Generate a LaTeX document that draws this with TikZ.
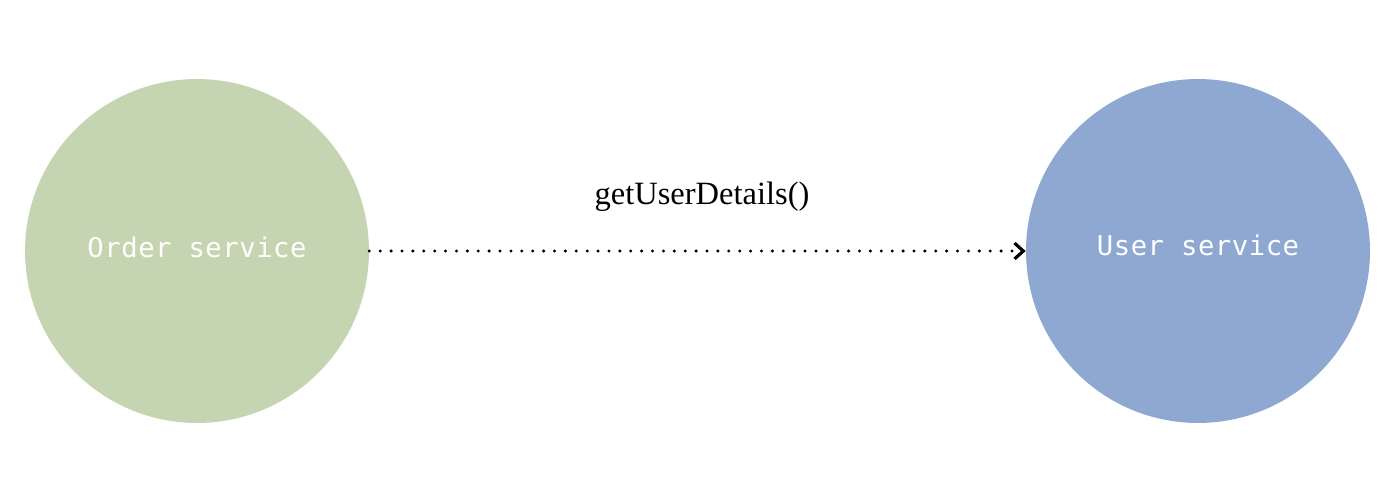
\documentclass[tikz,border=0pt]{standalone}
\usepackage{fontspec}
\setmainfont{Liberation Serif}
\newfontfamily\svcfont[LetterSpace=2]{DejaVu Sans Mono}
\usetikzlibrary{arrows.meta}
\definecolor{ordergreen}{HTML}{C6D5B1}
\definecolor{userblue}{HTML}{8FA8D1}

\begin{document}
\begin{tikzpicture}[x=0.02cm, y=-0.02cm,
    service/.style={circle, draw=none, minimum size=6.88cm, inner sep=0pt},
    svclabel/.style={text=white, font=\svcfont\fontsize{15.5}{18}\selectfont},
    call/.style={line width=1.9pt, line cap=round, dash pattern=on 0pt off 6.2pt, -{Straight Barb[length=5pt, width=9pt, line width=1.8pt]}}]
    \useasboundingbox (0,0) rectangle (1400,494);
    % Services
    \node[service, fill=ordergreen] (order) at (197,251) {};
    \node[service, fill=userblue] (user) at (1198,251) {};
    \node[svclabel] (ordertxt) at (197,247) {Order service};
    \node[svclabel] (usertxt) at (1198,245) {User service};
    % Call
    \draw[call] (order) -- (user);
    \node[font=\fontsize{18.5}{22}\selectfont] (calltxt) at (702,197) {getUserDetails()};
\end{tikzpicture}
\end{document}
